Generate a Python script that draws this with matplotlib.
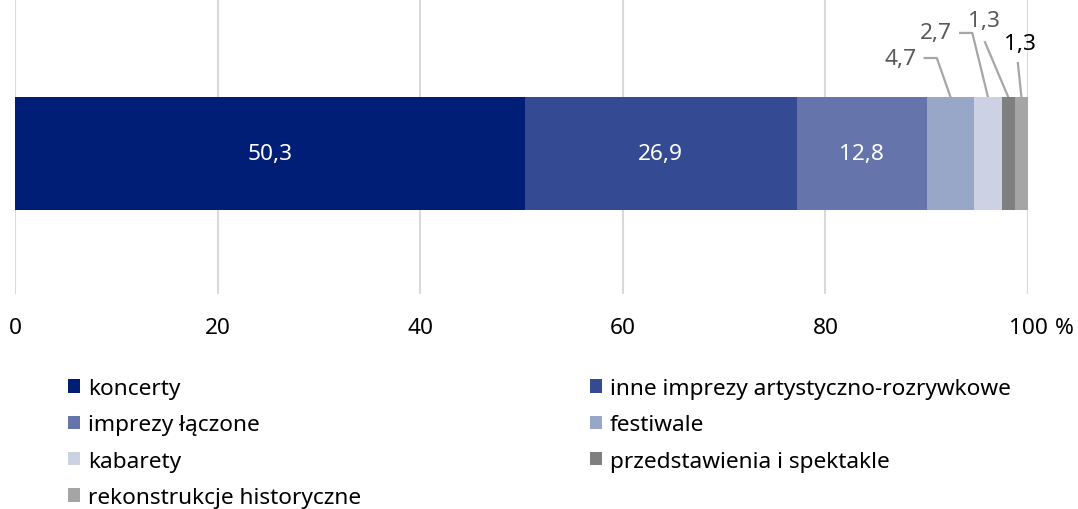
import matplotlib
matplotlib.use("Agg")
import matplotlib.pyplot as plt
from matplotlib.patches import Patch
import matplotlib.transforms as mtransforms
import numpy as np

plt.rcParams['font.family'] = ['Noto Sans', 'DejaVu Sans']

categories = ["koncerty", "inne imprezy artystyczno-rozrywkowe", "imprezy łączone",
              "festiwale", "kabarety", "przedstawienia i spektakle",
              "rekonstrukcje historyczne"]
values = [50.3, 26.9, 12.8, 4.7, 2.7, 1.3, 1.3]
value_labels = ["50,3", "26,9", "12,8", "4,7", "2,7", "1,3", "1,3"]
colors = ["#001E76", "#344B93", "#6575AC", "#98A6C8", "#CCD2E4", "#7F7F7F", "#A5A5A5"]
xticks = [0, 20, 40, 60, 80, 100]
xtick_labels = ["0", "20", "40", "60", "80", "100"]

FS = 16.3

fig = plt.figure(figsize=(10.78, 5.10), dpi=100)
ax = fig.add_axes([15/1078, 1 - 295/510, (1028 - 15)/1078, 295/510])

ybar = 0.476
hbar = 0.383
lefts = np.concatenate([[0], np.cumsum(values)[:-1]])
for v, l, c in zip(values, lefts, colors):
    ax.barh(ybar, v, left=l, height=hbar, color=c, edgecolor='none', zorder=3)

centers = lefts + np.array(values) / 2
for i in range(3):
    ax.text(centers[i], ybar, value_labels[i], ha='center', va='center',
            color='white', fontsize=FS, zorder=4)

top = ybar + hbar / 2
lc = "#A6A6A6"
lw = 1.6
# 4,7
c = centers[3]
ax.plot([c - 2.55, c - 1.35, c], [0.80, 0.80, top], color=lc, lw=lw, zorder=2, clip_on=False)
ax.text(c - 3.3, 0.80, value_labels[3], ha='right', va='center', color='#595959', fontsize=FS)
# 2,7
c = centers[4]
ax.plot([c - 2.75, c - 1.55, c], [0.885, 0.885, top], color=lc, lw=lw, zorder=2, clip_on=False)
ax.text(c - 3.6, 0.885, value_labels[4], ha='right', va='center', color='#595959', fontsize=FS)
# 1,3 (gray)
c = centers[5]
ax.plot([c - 2.3, c], [0.854, top], color=lc, lw=lw, zorder=2, clip_on=False)
ax.text(c - 2.4, 0.928, value_labels[5], ha='center', va='center', color='#595959', fontsize=FS)
# 1,3 (black)
c = centers[6]
ax.plot([c - 0.35, c], [0.783, top], color=lc, lw=lw, zorder=2, clip_on=False)
ax.text(c - 0.15, 0.848, value_labels[6], ha='center', va='center', color='#000000', fontsize=FS)

ax.set_xlim(0, 100)
ax.set_ylim(0, 1)
ax.set_xticks(xticks)
ax.set_xticklabels(xtick_labels, fontsize=FS)
ax.tick_params(axis='x', length=0, pad=16.5)
ax.set_yticks([])
for s in ax.spines.values():
    s.set_visible(False)
ax.grid(axis='x', color='#D9D9D9', lw=1.5, zorder=0)
ax.set_axisbelow(True)

pct_tr = mtransforms.offset_copy(ax.get_xaxis_transform(), fig=fig, x=26, y=-16.5, units='points')
ax.text(100, 0, "%", transform=pct_tr, ha='center', va='top', fontsize=FS)

handles = [Patch(facecolor=c, edgecolor='none') for c in colors]
order = [0, 2, 4, 6, 1, 3, 5]
leg = fig.legend([handles[i] for i in order], [categories[i] for i in order],
                 ncol=2, loc='upper left', bbox_to_anchor=(68/1078, 1 - 379/510),
                 frameon=False, fontsize=FS, handlelength=0.53, handleheight=0.53,
                 handletextpad=0.35, labelspacing=0.68, columnspacing=10.1,
                 borderaxespad=0, borderpad=0)

fig.savefig("out.png", dpi=100)
